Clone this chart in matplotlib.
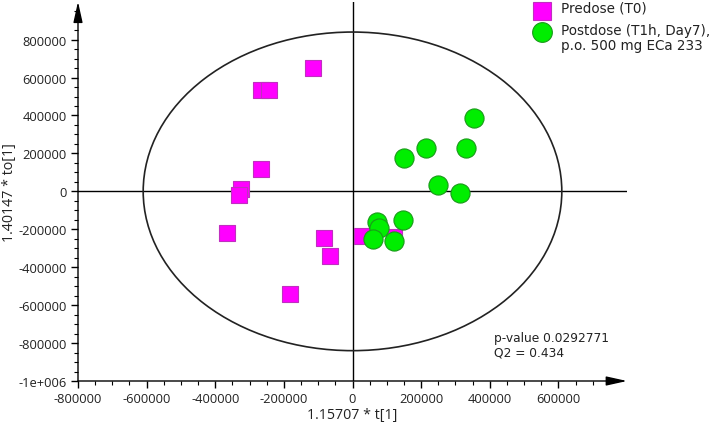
import matplotlib
matplotlib.use("Agg")
import matplotlib.pyplot as plt
import numpy as np
from matplotlib.patches import Ellipse
from matplotlib.lines import Line2D
from matplotlib.ticker import FixedLocator

# Data
pre_x = [-114000, -267000, -244000, -267000, -324000, -330000, -366000, -82000, -67000, -181000, 28000, 122000]
pre_y = [650000, 534000, 534000, 118000, 15000, -18000, -218000, -245000, -341000, -540000, -237000, -240000]
post_x = [355000, 214000, 331000, 149000, 250000, 314000, 71000, 147000, 76000, 61000, 120000]
post_y = [386000, 227000, 227000, 174000, 35000, -10000, -160000, -153000, -195000, -252000, -262000]

ellipse_a = 610000
ellipse_b = 840000

x_ticks = [-800000, -600000, -400000, -200000, 0, 200000, 400000, 600000]
y_ticks = [-1000000, -800000, -600000, -400000, -200000, 0, 200000, 400000, 600000, 800000]
x_ticklabels = ["-800000", "-600000", "-400000", "-200000", "0", "200000", "400000", "600000"]
y_ticklabels = ["-1e+006", "-800000", "-600000", "-400000", "-200000", "0", "200000", "400000", "600000", "800000"]

xlabel = "1.15707 * t[1]"
ylabel = "1.40147 * to[1]"
legend_labels = ["Predose (T0)", "Postdose (T1h, Day7),\np.o. 500 mg ECa 233"]
stats_text = "p-value 0.0292771\nQ2 = 0.434"

pre_face, pre_edge = "#FF00FF", "#C030C0"
post_face, post_edge = "#00EE00", "#1A9A1A"
text_color = "#222222"

W, H = 712, 431
fig = plt.figure(figsize=(W/100, H/100), dpi=100)
ax = fig.add_axes([78/W, 1-382/H, (627-78)/W, (382-2.7)/H])
ax.set_xlim(-800000, 800000)
ax.set_ylim(-1000000, 1000000)

for s in ["top", "right", "left", "bottom"]:
    ax.spines[s].set_visible(False)

# axes with arrows
arrow_kw = dict(arrowstyle="-|>,head_length=0.9,head_width=0.2", mutation_scale=14,
                color="black", lw=1.0, shrinkA=0, shrinkB=0)
ax.annotate("", xy=(1, 0), xytext=(0, 0), xycoords="axes fraction", arrowprops=arrow_kw)
ax.annotate("", xy=(0, 1.0), xytext=(0, 0), xycoords="axes fraction", arrowprops=arrow_kw)

ax.axhline(0, color="black", lw=1.0, zorder=1)
ax.axvline(0, color="black", lw=1.0, zorder=1)

ax.add_patch(Ellipse((0, 0), 2*ellipse_a, 2*ellipse_b, fill=False, ec="#222222", lw=1.2, zorder=1))

ax.scatter(pre_x, pre_y, marker="s", s=128, c=pre_face, edgecolors=pre_edge, linewidths=0.8, zorder=3)
ax.scatter(post_x, post_y, marker="o", s=190, c=post_face, edgecolors=post_edge, linewidths=0.8, zorder=4)

tick_font = dict(family=["Open Sans", "DejaVu Sans"], size=9.3)
ax.set_xticks(x_ticks)
ax.set_xticklabels(x_ticklabels, fontdict=tick_font, color=text_color)
ax.set_yticks(y_ticks)
ax.set_yticklabels(y_ticklabels, fontdict=tick_font, color=text_color)
ax.xaxis.set_minor_locator(FixedLocator(np.arange(-800000, 700001, 50000)))
ax.yaxis.set_minor_locator(FixedLocator(np.arange(-1000000, 950001, 50000)))
ax.tick_params(which="major", direction="out", length=5, width=1, pad=3)
ax.tick_params(which="minor", direction="out", length=3, width=0.8)

label_font = dict(family=["Open Sans", "DejaVu Sans"], size=10.3)
ax.set_xlabel(xlabel, fontdict=label_font, color=text_color, labelpad=1)
ax.set_ylabel(ylabel, fontdict=label_font, color=text_color)
ax.yaxis.set_label_coords((17-78)/549, 0.5)

fig.text(494/W, 1-346/H, stats_text, ha="left", va="center", fontsize=8.8,
         family="DejaVu Sans", color=text_color, linespacing=1.1)

# legend drawn manually
fig.add_artist(Line2D([542/W], [1-12/H], marker="s", markersize=12.5, markerfacecolor=pre_face,
                      markeredgecolor=pre_edge, markeredgewidth=0.8, linestyle="none",
                      transform=fig.transFigure))
fig.add_artist(Line2D([542/W], [1-33/H], marker="o", markersize=14.2, markerfacecolor=post_face,
                      markeredgecolor=post_edge, markeredgewidth=0.8, linestyle="none",
                      transform=fig.transFigure))
fig.text(561/W, 1-9/H, legend_labels[0], ha="left", va="center", fontsize=9.75,
         family="DejaVu Sans", color=text_color)
fig.text(561/W, 1-38.5/H, legend_labels[1], ha="left", va="center", fontsize=9.75,
         family="DejaVu Sans", color=text_color, linespacing=1.08)

fig.savefig("out.png", dpi=100)
